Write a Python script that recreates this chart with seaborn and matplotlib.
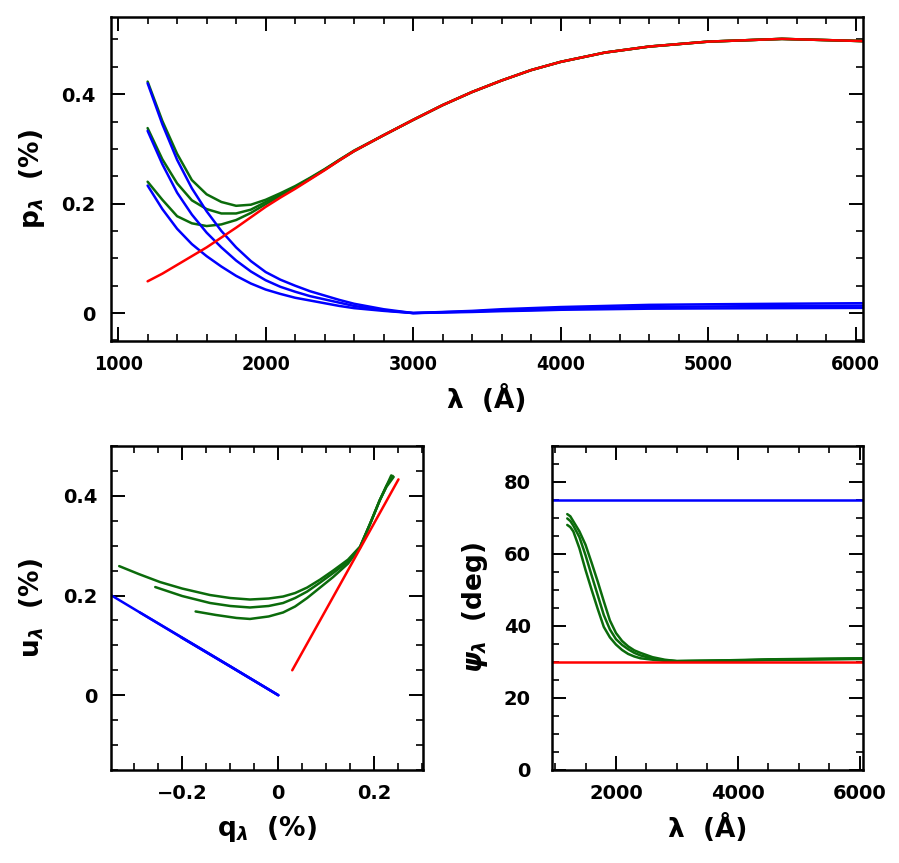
import numpy as np
import pandas as pd
import seaborn as sns
import matplotlib.pyplot as plt
from matplotlib.ticker import MultipleLocator, FuncFormatter

# wavelength grid (Angstrom) used for the p(lambda) curves
lam = [1200, 1300, 1400, 1500, 1600, 1700, 1800, 1900, 2000, 2100, 2200, 2300, 2400, 2500,
       2600, 2800, 3000, 3200, 3400, 3600, 3800, 4000, 4300, 4600, 5000, 5500, 6050]

# red component (Serkowski-like), p in %
p_red = [0.058, 0.072, 0.088, 0.104, 0.120, 0.138, 0.156, 0.175, 0.194, 0.211, 0.227, 0.244,
         0.261, 0.279, 0.296, 0.325, 0.353, 0.380, 0.404, 0.425, 0.444, 0.459, 0.476, 0.487,
         0.496, 0.501, 0.497]

# blue components
p_blue1 = [0.420, 0.345, 0.280, 0.228, 0.186, 0.150, 0.120, 0.095, 0.075, 0.061, 0.050, 0.040,
           0.032, 0.024, 0.017, 0.007, 0.000, 0.002, 0.004, 0.007, 0.009, 0.011, 0.013, 0.015,
           0.016, 0.017, 0.018]
p_blue2 = [0.333, 0.272, 0.220, 0.180, 0.147, 0.120, 0.096, 0.076, 0.060, 0.048, 0.039, 0.031,
           0.025, 0.019, 0.013, 0.005, 0.000, 0.0015, 0.003, 0.005, 0.007, 0.0085, 0.010, 0.011,
           0.012, 0.013, 0.0135]
p_blue3 = [0.233, 0.190, 0.154, 0.126, 0.104, 0.085, 0.068, 0.054, 0.043, 0.035, 0.028, 0.023,
           0.018, 0.013, 0.009, 0.004, 0.000, 0.001, 0.002, 0.0035, 0.0045, 0.006, 0.007, 0.008,
           0.0085, 0.009, 0.0095]

# green = observed sum
p_green1 = [0.423, 0.351, 0.291, 0.243, 0.217, 0.203, 0.196, 0.198, 0.207, 0.219, 0.232, 0.247,
            0.263, 0.280, 0.297, 0.325, 0.353, 0.380, 0.404, 0.425, 0.444, 0.459, 0.476, 0.487,
            0.496, 0.501, 0.497]
p_green2 = [0.338, 0.281, 0.237, 0.206, 0.190, 0.182, 0.182, 0.189, 0.203, 0.216, 0.230, 0.246,
            0.262, 0.280, 0.296, 0.325, 0.353, 0.380, 0.404, 0.425, 0.444, 0.459, 0.476, 0.487,
            0.496, 0.501, 0.497]
p_green3 = [0.240, 0.207, 0.177, 0.164, 0.159, 0.162, 0.170, 0.183, 0.199, 0.214, 0.229, 0.245,
            0.262, 0.279, 0.296, 0.325, 0.353, 0.380, 0.404, 0.425, 0.444, 0.459, 0.476, 0.487,
            0.496, 0.501, 0.497]

# position angles (deg)
lam_psi = [1200, 1250, 1300, 1400, 1500, 1600, 1700, 1800, 1900, 2000, 2100, 2200, 2300, 2400,
           2600, 2800, 3000, 3500, 4000, 4500, 5000, 5500, 6050]
psi_lam_flat = [900, 6100]
psi_red = [30, 30]
psi_blue = [75, 75]
psi_green1 = [71.0, 70.4, 69.0, 66.2, 62.5, 57.5, 52.3, 46.8, 41.5, 38.0, 35.8, 34.3, 33.2, 32.5,
              31.3, 30.6, 30.2, 30.3, 30.5, 30.7, 30.8, 30.9, 31.0]
psi_green2 = [69.8, 69.1, 67.8, 64.6, 59.6, 54.0, 48.5, 43.0, 39.0, 36.3, 34.7, 33.5, 32.5, 31.8,
              30.9, 30.4, 30.2, 30.3, 30.4, 30.6, 30.7, 30.8, 30.9]
psi_green3 = [68.0, 67.4, 66.2, 61.5, 55.5, 50.0, 44.7, 39.7, 36.8, 34.8, 33.3, 32.2, 31.5, 31.0,
              30.6, 30.3, 30.2, 30.3, 30.4, 30.5, 30.6, 30.7, 30.8]

# q-u plane (%)
q_red = [0.029, 0.140, 0.250]
u_red = [0.050, 0.242, 0.433]
q_blue1 = [-0.364, -0.200, 0.0]
u_blue1 = [0.210, 0.115, 0.0]
q_blue2 = [-0.288, -0.150, 0.0]
u_blue2 = [0.166, 0.087, 0.0]
q_blue3 = [-0.202, -0.100, 0.0]
u_blue3 = [0.116, 0.058, 0.0]
q_green1 = [-0.331, -0.290, -0.246, -0.200, -0.142, -0.100, -0.059, -0.020, 0.010, 0.035,
            0.060, 0.087, 0.114, 0.145, 0.170, 0.191, 0.211, 0.225, 0.235]
u_green1 = [0.259, 0.243, 0.227, 0.214, 0.201, 0.195, 0.192, 0.194, 0.198, 0.205,
            0.216, 0.232, 0.250, 0.272, 0.298, 0.344, 0.391, 0.420, 0.441]
q_green2 = [-0.256, -0.200, -0.142, -0.100, -0.059, -0.020, 0.010, 0.035, 0.060, 0.087,
            0.114, 0.145, 0.170, 0.191, 0.211, 0.225, 0.238]
u_green2 = [0.217, 0.199, 0.185, 0.179, 0.176, 0.179, 0.185, 0.195, 0.208, 0.226,
            0.245, 0.268, 0.297, 0.344, 0.391, 0.420, 0.440]
q_green3 = [-0.172, -0.130, -0.087, -0.059, -0.020, 0.010, 0.035, 0.060, 0.087, 0.114,
            0.145, 0.170, 0.191, 0.211, 0.225, 0.240]
u_green3 = [0.168, 0.161, 0.155, 0.153, 0.158, 0.166, 0.178, 0.195, 0.216, 0.237,
            0.264, 0.296, 0.344, 0.391, 0.418, 0.438]

RED = '#ff0000'
BLUE = '#0000ff'
GREEN = '#0b6b0b'
LW = 1.8

sns.set_theme(style='ticks')
plt.rcParams['font.family'] = ['DejaVu Sans']
plt.rcParams['font.weight'] = 'bold'
plt.rcParams['mathtext.fontset'] = 'dejavusans'
plt.rcParams['text.color'] = 'black'
plt.rcParams['axes.labelcolor'] = 'black'
plt.rcParams['axes.labelweight'] = 'bold'

fig = plt.figure(figsize=(8.99, 8.63), dpi=100)
ax_top = fig.add_axes([0.1235, 0.6049, 0.8365, 0.3754])
ax_qu = fig.add_axes([0.1235, 0.1078, 0.347, 0.3754])
ax_pa = fig.add_axes([0.6137, 0.1078, 0.3466, 0.3758])


def fmt(v, pos):
    s = '%g' % round(v, 6)
    return s.replace('-', '\u2212')


def style_axes(ax, xmaj, xmin, ymaj, ymin, ypad=10, xpad=10):
    ax.xaxis.set_major_locator(MultipleLocator(xmaj))
    ax.xaxis.set_minor_locator(MultipleLocator(xmin))
    ax.yaxis.set_major_locator(MultipleLocator(ymaj))
    ax.yaxis.set_minor_locator(MultipleLocator(ymin))
    ax.xaxis.set_major_formatter(FuncFormatter(fmt))
    ax.yaxis.set_major_formatter(FuncFormatter(fmt))
    ax.tick_params(which='both', direction='in', top=True, right=True, color='black',
                   labelcolor='black')
    ax.tick_params(which='major', length=10, width=1.4, labelsize=14)
    ax.tick_params(which='minor', length=5, width=1.2)
    ax.tick_params(axis='y', which='major', pad=ypad)
    ax.tick_params(axis='x', which='major', pad=xpad)
    for sp in ax.spines.values():
        sp.set_linewidth(1.8)
        sp.set_color('black')
        sp.set_visible(True)
    ax.grid(False)


# ---- top panel: p vs lambda
for p in [p_green1, p_green2, p_green3]:
    sns.lineplot(x=lam, y=p, color=GREEN, lw=LW, ax=ax_top, sort=False)
for p in [p_blue1, p_blue2, p_blue3]:
    sns.lineplot(x=lam, y=p, color=BLUE, lw=LW, ax=ax_top, sort=False)
sns.lineplot(x=lam, y=p_red, color=RED, lw=LW, ax=ax_top, sort=False)
ax_top.set_xlim(952, 6050)
ax_top.set_ylim(-0.051, 0.541)
style_axes(ax_top, 1000, 200, 0.2, 0.05, ypad=11, xpad=10)
for t in ax_top.get_xticklabels():
    t.set_fontstretch('condensed')
ax_top.set_xlabel('λ  (Å)', fontsize=19, labelpad=8)
ax_top.set_ylabel(r'p$_{\lambda}$  (%)', fontsize=19, labelpad=10)

# ---- bottom left: q-u plane
for q, u in [(q_green1, u_green1), (q_green2, u_green2), (q_green3, u_green3)]:
    sns.lineplot(x=q, y=u, color=GREEN, lw=LW, ax=ax_qu, sort=False)
for q, u in [(q_blue1, u_blue1), (q_blue2, u_blue2), (q_blue3, u_blue3)]:
    sns.lineplot(x=q, y=u, color=BLUE, lw=LW, ax=ax_qu, sort=False)
sns.lineplot(x=q_red, y=u_red, color=RED, lw=LW, ax=ax_qu, sort=False)
ax_qu.set_xlim(-0.348, 0.301)
ax_qu.set_ylim(-0.15, 0.5)
style_axes(ax_qu, 0.2, 0.05, 0.2, 0.05, ypad=10, xpad=10)
ax_qu.set_xlabel(r'q$_{\lambda}$  (%)', fontsize=19, labelpad=8)
ax_qu.set_ylabel(r'u$_{\lambda}$  (%)', fontsize=19, labelpad=12)

# ---- bottom right: position angle vs lambda
for psi in [psi_green1, psi_green2, psi_green3]:
    sns.lineplot(x=lam_psi, y=psi, color=GREEN, lw=LW, ax=ax_pa, sort=False)
sns.lineplot(x=psi_lam_flat, y=psi_blue, color=BLUE, lw=LW, ax=ax_pa, sort=False)
sns.lineplot(x=psi_lam_flat, y=psi_red, color=RED, lw=LW, ax=ax_pa, sort=False)
ax_pa.set_xlim(945, 6060)
ax_pa.set_ylim(0, 90)
style_axes(ax_pa, 2000, 500, 20, 5, ypad=15, xpad=10)
ax_pa.set_xlabel('λ  (Å)', fontsize=19, labelpad=8)
ax_pa.set_ylabel(r'$\psi_{\lambda}$  (deg)', fontsize=19, labelpad=10)

fig.savefig('out.png', dpi=100)
